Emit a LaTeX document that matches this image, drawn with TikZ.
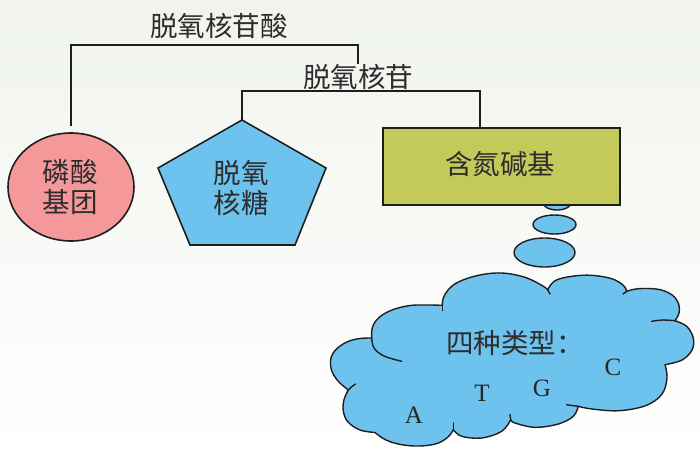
\documentclass[tikz,border=0pt]{standalone}
\usepackage{fontspec}
\setmainfont{Liberation Serif}
\newfontfamily\cjk{Noto Sans CJK SC}
\usetikzlibrary{shapes.geometric}
\definecolor{pinkfill}{RGB}{244,152,154}
\definecolor{bluefill}{RGB}{110,195,238}
\definecolor{olivefill}{RGB}{196,202,90}
\definecolor{linecol}{RGB}{30,30,30}
\definecolor{txt}{RGB}{45,45,45}
\definecolor{bgtop}{RGB}{240,244,237}
\tikzset{
  conn/.style={draw=linecol, line width=1.6pt},
  shapeline/.style={draw=linecol, line width=1.6pt},
  cloudline/.style={draw=linecol, line width=1.4pt, line join=round, line cap=round},
  cjktext/.style={font=\cjk\fontsize{27.5}{30}\selectfont, text=txt, align=center, inner sep=0pt},
  letter/.style={font=\fontsize{25}{28}\selectfont, text=black!85, inner sep=0pt},
  lobe/.style={smooth, tension=0.6},
}
\begin{document}
\begin{tikzpicture}[x=1pt,y=-1pt]
\useasboundingbox (0,0) rectangle (700,453);
\shade[top color=bgtop, bottom color=white] (0,0) rectangle (700,453);

% labels
\node[cjktext] (dna) at (219,26) {脱氧核苷酸};
\node[cjktext] (nucl) at (358,77) {脱氧核苷};

% phosphate
\node[ellipse, shapeline, fill=pinkfill, minimum width=126pt, minimum height=108pt, inner sep=0pt] (phos) at (71,187) {};
\node[cjktext] (phostxt) at (70,187) {磷酸\\基团};

% sugar pentagon
\draw[shapeline, fill=bluefill] (242,120) -- (326,168) -- (295,245) -- (190,245) -- (158,168) -- cycle;
\coordinate (sugartop) at (242,120);
\node[cjktext] (sugar) at (241,188) {脱氧\\核糖};

% bubbles (behind the base box)
\draw[cloudline, fill=bluefill] (557,202) ellipse [x radius=14.5, y radius=8];
\draw[cloudline, fill=bluefill] (554.5,224.5) ellipse [x radius=21.5, y radius=9.5];
\draw[cloudline, fill=bluefill] (544.5,252.5) ellipse [x radius=30.5, y radius=14.5];

% base box
\node[rectangle, shapeline, fill=olivefill, minimum width=237pt, minimum height=77pt, inner sep=0pt] (base) at (501.5,166.5) {};
\node[cjktext] (basetxt) at (500,164) {含氮碱基};

% connectors
\coordinate (bar1) at (219,45);
\coordinate (bar2) at (360,91);
\draw[conn] ([yshift=6pt]phos.north) |- (bar1) -| (nucl.north);
\draw[conn] (sugartop) |- (bar2) -| ([xshift=-21.5pt]base.north);

% cloud outline
\draw[cloudline, fill=bluefill]
  plot[lobe] coordinates {(371.7,338) (372.5,327) (379,317.5) (392,310) (410,305.5) (428,305) (442.3,305.3)}
  -- plot[lobe] coordinates {(442.3,305.3) (443.3,298) (448.3,289.7) (458.3,282) (478.3,275.3) (501.7,273) (525,277.3) (541.7,285.3) (547.7,289.7)}
  -- plot[lobe] coordinates {(547.7,289.7) (555,280.7) (571.7,276.3) (591.7,275.3) (611.7,278.7) (623.3,285.3) (626.7,291.3)}
  -- plot[lobe] coordinates {(626.7,291.3) (638.3,288.7) (658.3,289.3) (671.7,294.7) (678.3,303) (679,313) (675,320.7)}
  -- plot[lobe] coordinates {(675,320.7) (686.7,326.3) (693.3,338) (692,350) (682,360) (665,364.7)}
  -- plot[lobe] coordinates {(665,364.7) (667,378) (662,394) (646,405.5) (619,410.7) (592,409) (578.3,406.3)}
  -- plot[lobe] coordinates {(578.3,406.3) (573.3,416.3) (558.3,424) (535,427.3) (515,423) (510.7,419.7)}
  -- plot[lobe] coordinates {(510.7,419.7) (501.7,431.3) (481.7,438) (461.7,436.3) (453.3,429.7)}
  -- plot[lobe] coordinates {(453.3,429.7) (448,437) (437,443.5) (420,446) (401.7,444.7) (386,440) (375,432.5)}
  -- plot[lobe] coordinates {(375,432.5) (360,430) (348,422) (343.3,411) (344,399.7) (348.3,390)}
  -- plot[lobe] coordinates {(348.3,390) (338,381) (331.5,370) (331,358) (337,348.5) (348,341.5) (360,338.5) (371.7,338)}
  -- cycle;
% cloud inner lines
\draw[cloudline] plot[lobe] coordinates {(371.7,338) (374,348) (384,356) (401.7,361.3)};
\draw[cloudline] (442.3,305.3) -- (442.3,310.7);
\draw[cloudline] (547.7,289.7) -- (550,294);
\draw[cloudline] (626.7,291.3) -- (623,294);
\draw[cloudline] plot[lobe] coordinates {(651.7,321.3) (663,320) (675,320.7)};
\draw[cloudline] plot[lobe] coordinates {(578.3,406.3) (572,405.5) (566.7,404.7)};
\draw[cloudline] (510.7,419.7) -- (510,414.5);
\draw[cloudline] (453.3,429.7) -- (453.3,423);
\draw[cloudline] plot[lobe] coordinates {(348.3,390) (352,386.5) (355.5,384)};

% cloud texts
\node[cjktext] (types) at (515,343) {四种类型：};
\node[letter] (A) at (414,415) {A};
\node[letter] (T) at (482,393) {T};
\node[letter] (G) at (542,388) {G};
\node[letter] (C) at (613,367) {C};
\end{tikzpicture}
\end{document}
